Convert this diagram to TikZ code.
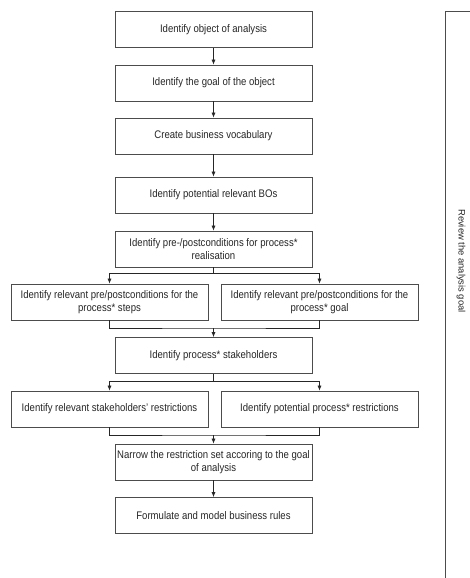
\documentclass[tikz,border=0pt]{standalone}
\usepackage{fontspec}
\setmainfont{Liberation Sans}[FakeStretch=0.87]
\newfontfamily\reviewfont{Liberation Sans}
\usetikzlibrary{positioning}
\usetikzlibrary{arrows.meta}

\tikzset{
  stepbox/.style={draw=black!70,line width=0.7pt,minimum width=197pt,minimum height=36pt,
    inner sep=1pt,align=center,font=\fontsize{11}{13}\selectfont,text=black!85},
  arr/.style={draw=black!85,line width=0.6pt,-{Latex[length=5pt,width=4pt]}},
  ln/.style={draw=black!85,line width=0.6pt}
}

\begin{document}
\begin{tikzpicture}[x=1pt,y=-1pt]
 \useasboundingbox (0,0) rectangle (470,578);
 \node[stepbox] (obj) at (213.5,29.5) {Identify object of analysis};
 \node[stepbox] (goal) at (213.5,83) {Identify the goal of the object};
 \node[stepbox] (voc) at (213.5,136) {Create business vocabulary};
 \node[stepbox] (bos) at (213.5,195) {Identify potential relevant BOs};
 \node[stepbox] (cond) at (213.5,249) {Identify pre-/postconditions for process*\\realisation};
 \node[stepbox] (steps) at (109.5,302) {Identify relevant pre/postconditions for the\\process* steps};
 \node[stepbox] (pgoal) at (319.5,302) {Identify relevant pre/postconditions for the\\process* goal};
 \node[stepbox] (stake) at (213.5,355.5) {Identify process* stakeholders};
 \node[stepbox] (srestr) at (109.5,409) {Identify relevant stakeholders' restrictions};
 \node[stepbox] (prestr) at (319.5,409) {Identify potential process* restrictions};
 \node[stepbox] (narrow) at (213.5,462) {Narrow the restriction set accoring to the goal\\of analysis};
 \node[stepbox] (rules) at (213.5,515.5) {Formulate and model business rules};

 \coordinate (s1) at (213.5,273);
 \coordinate (m1) at (213.5,328);
 \coordinate (s2) at (213.5,381);
 \coordinate (m2) at (213.5,435);

 \draw[arr] (obj) -- (goal);
 \draw[arr] (goal) -- (voc);
 \draw[arr] (voc) -- (bos);
 \draw[arr] (bos) -- (cond);
 \draw[ln] (cond.south) -- (s1);
 \draw[arr] (s1) -| (steps.north);
 \draw[arr] (s1) -| (pgoal.north);
 \draw[ln] (steps.south) |- (m1) -| (pgoal.south);
 \draw[arr] (m1) -- (stake);
 \draw[ln] (stake.south) -- (s2);
 \draw[arr] (s2) -| (srestr.north);
 \draw[arr] (s2) -| (prestr.north);
 \draw[ln] (srestr.south) |- (m2) -| (prestr.south);
 \draw[arr] (m2) -- (narrow);
 \draw[arr] (narrow) -- (rules);

 \draw[draw=black!70,line width=0.7pt] (471,11) -- (445,11) -- (445,579);
 \node[rotate=-90,font=\reviewfont\fontsize{9.4}{12}\selectfont,text=black!85] (review) at (461,261) {Review the analysis goal};
\end{tikzpicture}
\end{document}
